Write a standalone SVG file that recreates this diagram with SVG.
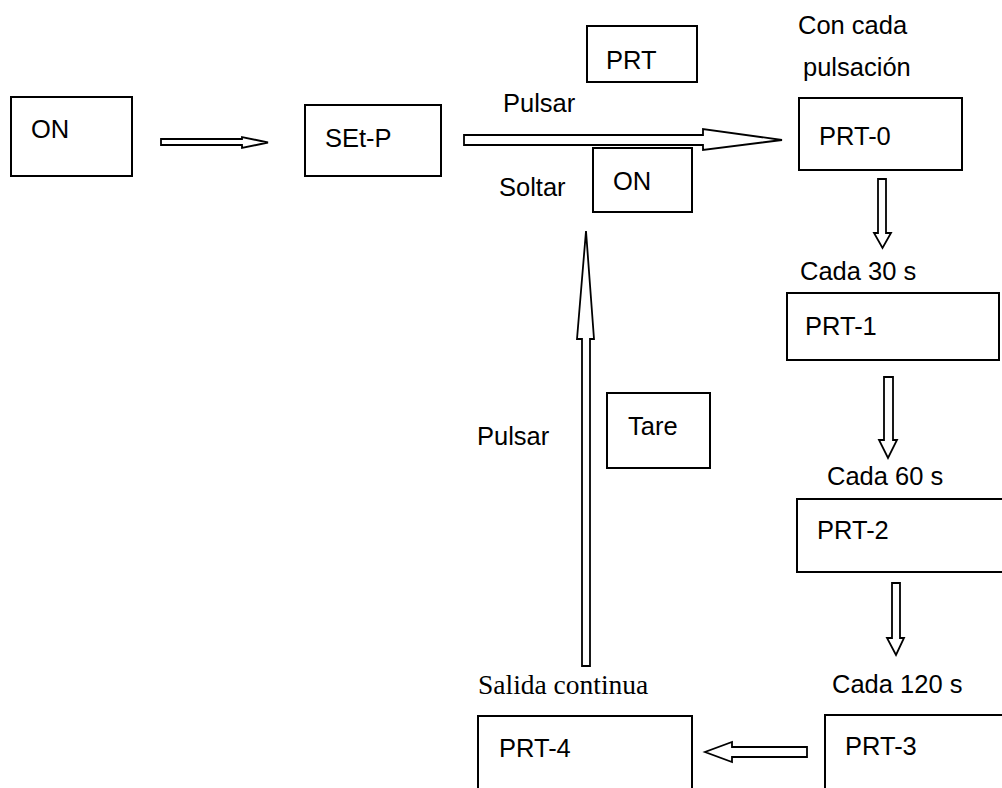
<svg xmlns="http://www.w3.org/2000/svg" width="1002" height="788" viewBox="0 0 1002 788">
<style>
  .box { fill: #ffffff; stroke: #000000; stroke-width: 2; }
  .arr { fill: #ffffff; stroke: #000000; stroke-width: 1.8; stroke-linejoin: miter; }
  .t { font-family: "Liberation Sans", Arial, sans-serif; font-size: 25.5px; fill: #000000; }
  .ts { font-family: "Liberation Serif", "Times New Roman", serif; font-size: 27.5px; fill: #000000; }
</style>
<rect x="0" y="0" width="1002" height="788" fill="#ffffff"/>
<g id="connectors">
  <polygon class="arr" points="161,139 242,139 242,137 268,142.5 242,148 242,145 161,145"/>
  <polygon class="arr" points="464,135 703,135 703,129 782,140 703,150 703,145 464,145"/>
  <polygon class="arr" points="878,179 886,179 886,233 891,233 882.5,248 874,233 878,233"/>
  <polygon class="arr" points="884,377 893,377 893,440 897,440 888,458 879,440 884,440"/>
  <polygon class="arr" points="892,583 900,583 900,638 904,638 896,655 887,638 892,638"/>
  <polygon class="arr" points="807,747 807,757 732,757 732,762 705,752 732,742 732,747"/>
  <polygon class="arr" points="582,666 590,666 590,339 594,339 586,231 577,339 582,339"/>
</g>
<g id="node-on">
  <rect class="box" x="11" y="97" width="121" height="79"/>
  <text class="t" x="31" y="138">ON</text>
</g>
<g id="node-setp">
  <rect class="box" x="305" y="105" width="136" height="71"/>
  <text class="t" x="325" y="147">SEt-P</text>
</g>
<g id="node-prt">
  <rect class="box" x="587" y="26" width="110" height="56"/>
  <text class="t" x="606" y="69">PRT</text>
</g>
<g id="label-pulsar-top">
  <text class="t" x="503" y="112">Pulsar</text>
</g>
<g id="label-soltar">
  <text class="t" x="499" y="196">Soltar</text>
</g>
<g id="node-on-small">
  <rect class="box" x="593" y="148" width="99" height="64"/>
  <text class="t" x="613" y="190">ON</text>
</g>
<g id="label-con-cada">
  <text class="t" x="798" y="34">Con cada</text>
  <text class="t" x="803" y="76">pulsación</text>
</g>
<g id="node-prt0">
  <rect class="box" x="799" y="98" width="163" height="72"/>
  <text class="t" x="819" y="145">PRT-0</text>
</g>
<g id="label-cada30">
  <text class="t" x="800" y="280">Cada 30 s</text>
</g>
<g id="node-prt1">
  <rect class="box" x="787" y="293" width="212" height="67"/>
  <text class="t" x="805" y="335">PRT-1</text>
</g>
<g id="label-cada60">
  <text class="t" x="827" y="485">Cada 60 s</text>
</g>
<g id="node-prt2">
  <rect class="box" x="797" y="499" width="215" height="73"/>
  <text class="t" x="817" y="539">PRT-2</text>
</g>
<g id="label-cada120">
  <text class="t" x="832" y="693">Cada 120 s</text>
</g>
<g id="node-prt3">
  <rect class="box" x="825" y="715" width="195" height="90"/>
  <text class="t" x="845" y="755">PRT-3</text>
</g>
<g id="label-pulsar-left">
  <text class="t" x="477" y="445">Pulsar</text>
</g>
<g id="node-tare">
  <rect class="box" x="607" y="393" width="103" height="75"/>
  <text class="t" x="628" y="435">Tare</text>
</g>
<g id="label-salida">
  <text class="ts" x="478" y="694">Salida continua</text>
</g>
<g id="node-prt4">
  <rect class="box" x="478" y="716" width="214" height="90"/>
  <text class="t" x="499" y="757">PRT-4</text>
</g>
</svg>
